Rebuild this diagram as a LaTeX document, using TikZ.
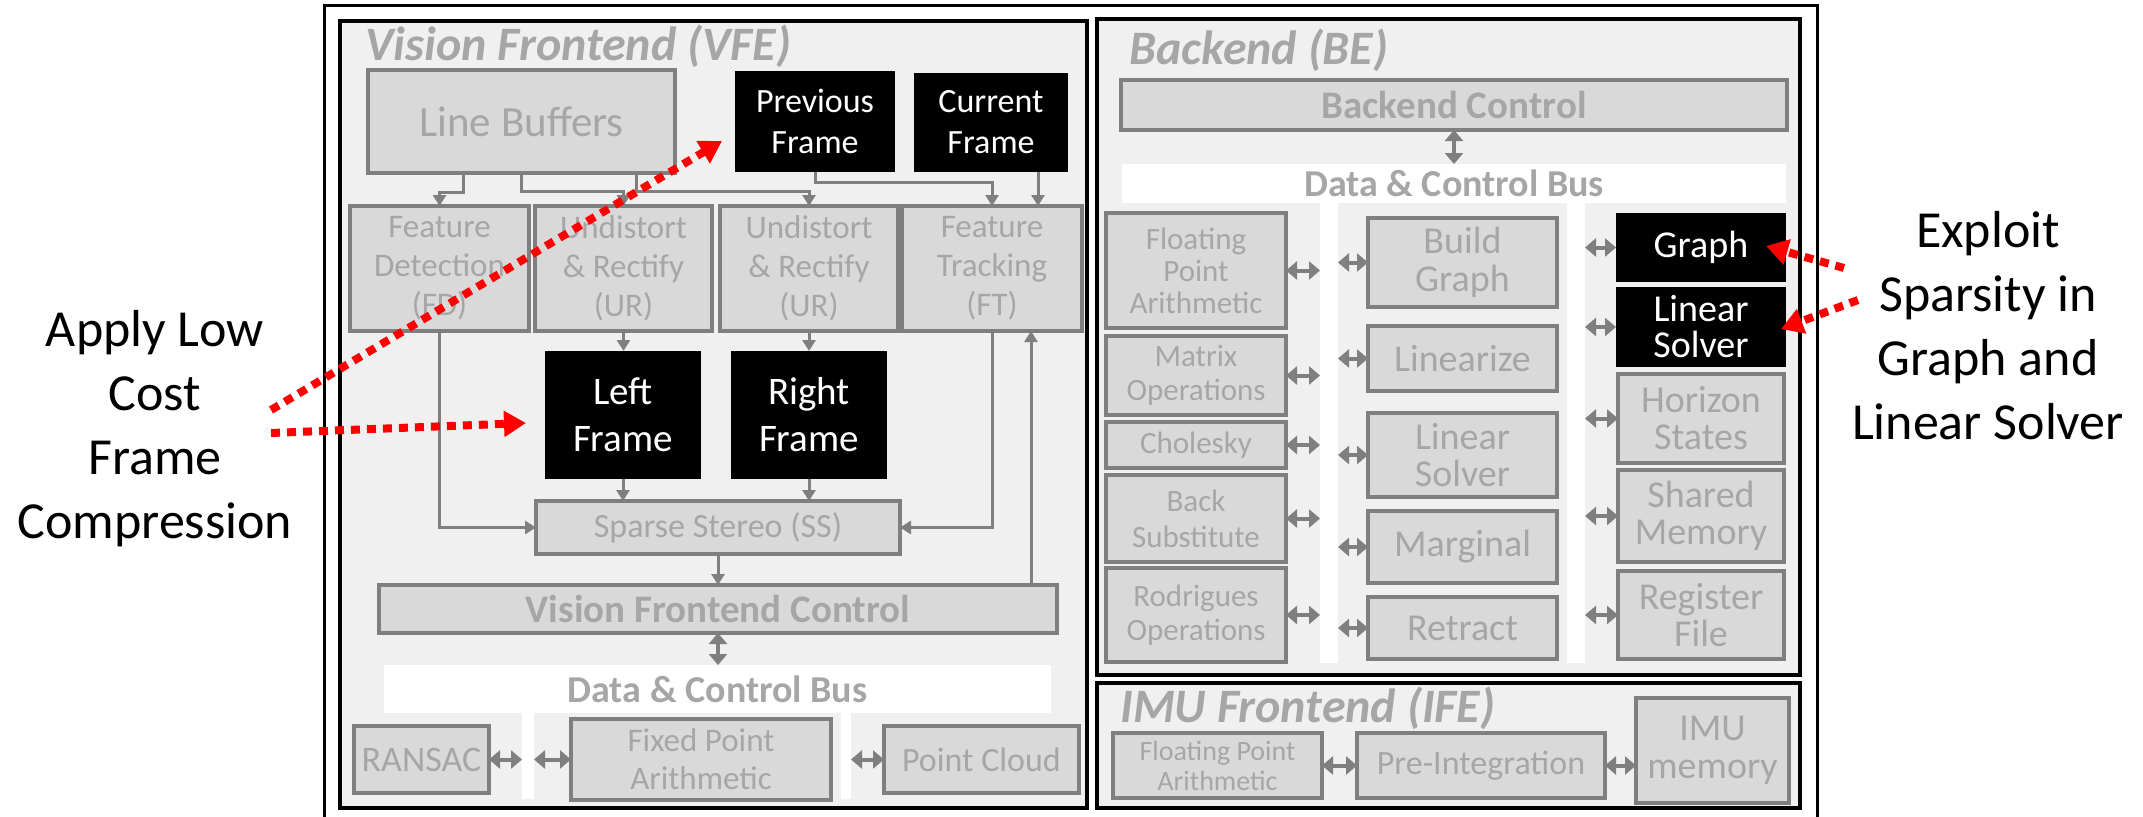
\documentclass[tikz,border=0pt]{standalone}
\usepackage{fontspec}
\setmainfont{Carlito}
\usetikzlibrary{arrows.meta}

\definecolor{panelgray}{HTML}{F0F0F0}
\definecolor{boxfill}{HTML}{D9D9D9}
\definecolor{boxline}{HTML}{7F7F7F}
\definecolor{boxtext}{HTML}{A6A6A6}
\definecolor{hot}{HTML}{FF0000}

\newcommand\fs[2]{\fontsize{#1}{#2}\selectfont}

\tikzset{
  panelbox/.style={draw=black, line width=4, fill=panelgray},
  corners/.style n args={4}{minimum width={#3-#1}, minimum height={#4-#2},
    at={({(#1+#3)/2},{(#2+#4)/2})}},
  unitbox/.style={draw=boxline, line width=4, fill=boxfill, text=boxtext,
    align=center, inner sep=0pt, outer sep=0pt},
  darkbox/.style={fill=black, text=white, align=center, inner sep=0pt, outer sep=0pt},
  busbar/.style={fill=white, text=boxtext, align=center, inner sep=0pt,
    outer sep=0pt, font=\fs{38}{44}\bfseries},
  strip/.style={fill=white, inner sep=0pt, outer sep=0pt},
  paneltitle/.style={text=boxtext, anchor=base west, inner sep=0pt,
    font=\fs{48}{54}\bfseries\itshape},
  flowarrow/.style={draw=boxline, line width=3, -{Triangle[length=11,width=13]}},
  duplex/.style={draw=boxline, line width=4,
    {Triangle[length=11,width=18]}-{Triangle[length=11,width=18]}},
  sidenote/.style={align=center, inner sep=0pt, font=\fs{52}{64}},
  redhint/.style={draw=hot, line width=8, dash pattern=on 9 off 7,
    -{Triangle[length=22,width=25]}},
}

\begin{document}
\begin{tikzpicture}[x=1pt,y=-1pt]
\useasboundingbox (0,0) rectangle (2143,816);
\fill[white] (0,0) rectangle (2143,816);

% outer frame and the three subsystem panels
\draw[line width=3] (324,6) rectangle (1817,840);
\draw[panelbox] (340,21) rectangle (1087,808);
\draw[panelbox] (1097,19) rectangle (1800,675);
\draw[panelbox] (1097,683) rectangle (1800,808);

\node[paneltitle] (tVFE) at (365,60) {Vision Frontend (VFE)};
\node[paneltitle] (tBE) at (1129,65) {Backend (BE)};
\node[paneltitle] (tIFE) at (1120,722) {IMU Frontend (IFE)};

% ---------------- Vision frontend ----------------
\node[unitbox, corners={368}{70}{675}{173}, font=\fs{43}{50}] (LB) {Line Buffers};
\node[darkbox, corners={735}{71}{895}{172}, font=\fs{34}{41}] (Prev) {Previous\\Frame};
\node[darkbox, corners={914}{73}{1068}{172}, font=\fs{34}{41}] (Cur) {Current\\Frame};

\node[unitbox, corners={350}{206}{529}{331}, font=\fs{33}{39}] (FD) {Feature\\Detection\\(FD)};
\node[unitbox, corners={535}{206}{712}{331}, font=\fs{33}{39}] (UR1) {Undistort\\\& Rectify\\(UR)};
\node[unitbox, corners={720}{206}{898}{331}, font=\fs{33}{39}] (UR2) {Undistort\\\& Rectify\\(UR)};
\node[unitbox, corners={902}{206}{1082}{331}, font=\fs{33}{39}] (FT) {Feature\\Tracking\\(FT)};

\node[darkbox, corners={545}{351}{701}{479}, font=\fs{39}{47}] (LF) {Left\\Frame};
\node[darkbox, corners={731}{351}{887}{479}, font=\fs{39}{47}] (RF) {Right\\Frame};

\node[unitbox, corners={536}{501}{900}{554}, font=\fs{34}{40}] (SS) {Sparse Stereo (SS)};
\node[unitbox, corners={379}{585}{1057}{633}, font=\fs{39}{44}\bfseries] (VFC) {Vision Frontend Control};

\node[busbar, corners={384}{665}{1051}{713}] (Vbus) {Data \& Control Bus};
\node[strip, corners={522}{713}{534}{799}] (VstripL) {};
\node[strip, corners={841}{713}{851}{799}] (VstripR) {};

\node[unitbox, corners={354}{726}{489}{793}, font=\fs{36}{42}] (RAN) {RANSAC};
\node[unitbox, corners={571}{719}{831}{800}, font=\fs{33}{38}] (FPA) {Fixed Point\\Arithmetic};
\node[unitbox, corners={884}{726}{1079}{793}, font=\fs{34}{40}] (PC) {Point Cloud};

% vision frontend data flow
\draw[flowarrow] (LB.south -| 463,0) -- (463,192) -| (FD.north);
\draw[flowarrow] (LB.south -| 521,0) -- (521,191) -| (UR1.north);
\draw[flowarrow] (LB.south -| 636,0) -- (636,191) -| (UR2.north);
\draw[flowarrow] (Prev.south) -- ++(0,10) -| (FT.north);
\draw[flowarrow] (Cur.south -| 1038,0) -- (FT.north -| 1038,0);
\draw[flowarrow] (UR1.south) -- (UR1.south |- LF.north);
\draw[flowarrow] (UR2.south) -- (UR2.south |- RF.north);
\draw[flowarrow] (LF.south) -- (LF.south |- SS.north);
\draw[flowarrow] (RF.south) -- (RF.south |- SS.north);
\draw[flowarrow] (FD.south) |- (SS.west);
\draw[flowarrow] (FT.south) |- (SS.east);
\draw[flowarrow] (VFC.north -| 1031,0) -- (FT.south -| 1031,0);
\draw[flowarrow] (SS.south) -- (SS.south |- VFC.north);
\draw[duplex] (VFC.south) -- (VFC.south |- Vbus.north);
\draw[duplex] (RAN.east) -- (RAN.east -| VstripL.west);
\draw[duplex] (FPA.west -| VstripL.east) -- (FPA.west);
\draw[duplex] (PC.west -| VstripR.east) -- (PC.west);

% ---------------- Backend ----------------
\node[unitbox, corners={1121}{80}{1787}{130}, font=\fs{39}{44}\bfseries] (BC) {Backend Control};
\node[busbar, corners={1122}{164}{1786}{203}] (Bbus) {Data \& Control Bus};
\node[strip, corners={1320}{203}{1338}{663}] (BstripL) {};
\node[strip, corners={1567}{203}{1585}{663}] (BstripR) {};
\draw[duplex] (BC.south) -- (BC.south |- Bbus.north);

% arithmetic column
\node[unitbox, corners={1106}{213}{1286}{328}, font=\fs{31}{32}] (BFPA) {Floating\\Point\\Arithmetic};
\node[unitbox, corners={1106}{336}{1286}{415}, font=\fs{31}{34}] (MO) {Matrix\\Operations};
\node[unitbox, corners={1106}{422}{1286}{468}, font=\fs{31}{34}] (CH) {Cholesky};
\node[unitbox, corners={1106}{475}{1286}{562}, font=\fs{31}{36}] (BSU) {Back\\Substitute};
\node[unitbox, corners={1106}{568}{1286}{662}, font=\fs{31}{34}] (RO) {Rodrigues\\Operations};

% optimisation steps
\node[unitbox, corners={1368}{218}{1557}{307}, font=\fs{38}{38}] (BG) {Build\\Graph};
\node[unitbox, corners={1368}{326}{1557}{391}, font=\fs{38}{38}] (LZ) {Linearize};
\node[unitbox, corners={1368}{413}{1557}{497}, font=\fs{38}{37}] (LS) {Linear\\Solver};
\node[unitbox, corners={1368}{511}{1557}{583}, font=\fs{38}{38}] (MG) {Marginal};
\node[unitbox, corners={1368}{597}{1557}{659}, font=\fs{38}{38}] (RT) {Retract};

% storage column
\node[darkbox, corners={1616}{213}{1786}{282}, font=\fs{38}{38}] (GR) {Graph};
\node[darkbox, corners={1616}{287}{1786}{367}, font=\fs{38}{36}] (LSD) {Linear\\Solver};
\node[unitbox, corners={1618}{374}{1784}{463}, font=\fs{38}{37}] (HS) {Horizon\\States};
\node[unitbox, corners={1618}{470}{1784}{562}, font=\fs{38}{37}] (SM) {Shared\\Memory};
\node[unitbox, corners={1618}{571}{1784}{659}, font=\fs{38}{37}] (RGF) {Register\\File};

\foreach \b in {BFPA,MO,CH,BSU,RO}
  \draw[duplex] (\b.east) -- (\b.east -| BstripL.west);
\foreach \b in {BG,LZ,LS,MG,RT}
  \draw[duplex] (\b.west -| BstripL.east) -- (\b.west);
\foreach \b in {GR,LSD,HS,SM,RGF}
  \draw[duplex] (\b.west -| BstripR.east) -- (\b.west);

% ---------------- IMU frontend ----------------
\node[unitbox, corners={1113}{733}{1322}{798}, font=\fs{28}{30}] (IFPA) {Floating Point\\Arithmetic};
\node[unitbox, corners={1357}{733}{1605}{798}, font=\fs{34}{40}] (PI) {Pre-Integration};
\node[unitbox, corners={1636}{698}{1789}{803}, font=\fs{38}{38}] (IM) {IMU\\memory};
\draw[duplex] (IFPA.east) -- (PI.west);
\draw[duplex] (PI.east) -- (PI.east -| IM.west);

% ---------------- side notes ----------------
\node[sidenote] (noteL) at (155,429) {Apply Low\\Cost\\Frame\\Compression};
\node[sidenote] (noteR) at (1988,326) {Exploit\\Sparsity in\\Graph and\\Linear Solver};

\coordinate (fromL1) at (271,410);
\coordinate (toPrev) at (722,141);
\coordinate (fromL2) at (271,433);
\coordinate (toLeft) at (526,423);
\coordinate (fromR1) at (1844,268);
\coordinate (toGraph) at (1766,246);
\coordinate (fromR2) at (1858,300);
\coordinate (toSolver) at (1781,329);

\draw[redhint] (fromL1) -- (toPrev);
\draw[redhint] (fromL2) -- (toLeft);
\draw[redhint] (fromR1) -- (toGraph);
\draw[redhint] (fromR2) -- (toSolver);
\end{tikzpicture}
\end{document}
